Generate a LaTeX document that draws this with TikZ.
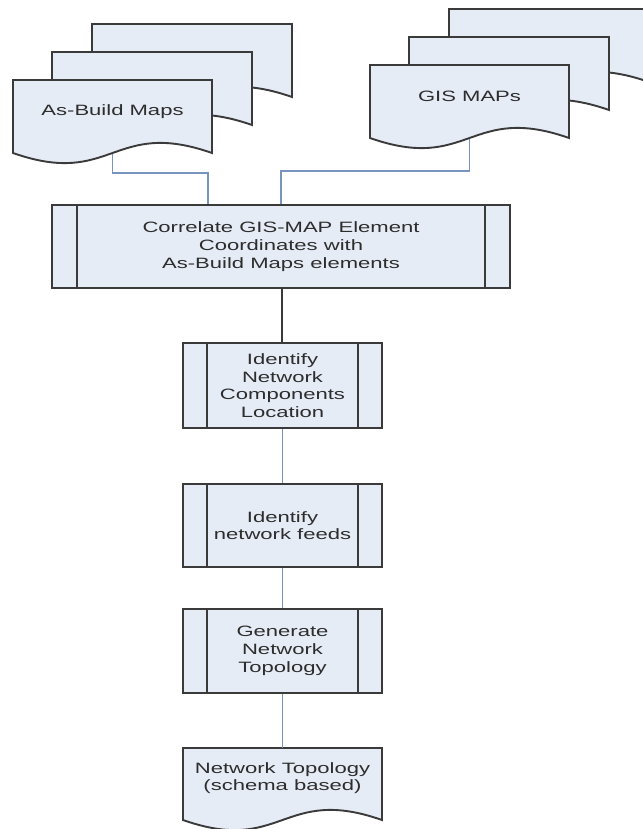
\documentclass[tikz,border=0pt]{standalone}
\usepackage{fontspec}
\setmainfont{Liberation Sans}[FakeStretch=1.47]
\usetikzlibrary{calc}
\pgfdeclarelayer{background}
\pgfsetlayers{background,main}
\definecolor{boxfill}{RGB}{230,236,246}
\definecolor{boxline}{RGB}{58,58,58}
\definecolor{linkblue}{RGB}{118,148,190}
\definecolor{txt}{RGB}{45,45,45}
\newcommand\docpath[4]{(#1,#2) -- (#1+#3,#2) -- (#1+#3,#2+#4) .. controls (#1+0.5*#3,#2+#4-35) and (#1+0.5*#3,#2+#4+35) .. (#1,#2+#4) -- cycle}
\begin{document}
\begin{tikzpicture}[x=1pt,y=-1pt,
  shapeline/.style={draw=boxline,line width=1.9pt,fill=boxfill,line join=miter},
  txtstyle/.style={text=txt,font=\fontsize{15}{17.7}\selectfont,align=center,inner sep=0pt},
  doctext/.style={txtstyle,minimum width=199pt,minimum height=63pt},
  proc/.style={txtstyle,shapeline,minimum width=199pt},
  bluelink/.style={draw=linkblue,line width=1.8pt},
  darklink/.style={draw=boxline,line width=1.8pt}]
\useasboundingbox (0,0) rectangle (642,829);
% stacked documents, back to front
\draw[shapeline] \docpath{92}{24}{200}{73};
\draw[shapeline] \docpath{52}{52}{200}{73};
\draw[shapeline] \docpath{13}{80}{199}{73};
\draw[shapeline] \docpath{449}{9}{200}{73};
\draw[shapeline] \docpath{409}{37}{200}{73};
\draw[shapeline] \docpath{370}{65}{199}{73};
\draw[shapeline] \docpath{183}{748}{199}{72};
% text of documents
\node[doctext] (asb) at (112.5,111.5) {As-Build Maps};
\node[doctext] (gis) at (469.5,96.5) {GIS MAPs};
\node[doctext,minimum height=60pt] (topo) at (282.5,778) {Network Topology\\(schema based)};
% process boxes
\node[proc,minimum width=458pt,minimum height=83pt] (cor) at (281,246.5) {Correlate GIS-MAP Element\\Coordinates with\\As-Build Maps elements};
\node[proc,minimum height=85pt] (comp) at (282.5,385.5) {Identify\\Network\\Components\\Location};
\node[proc,minimum height=83pt] (feed) at (282.5,525.5) {Identify\\network feeds};
\node[proc,minimum height=84pt] (gen) at (282.5,651) {Generate\\Network\\Topology};
\foreach \n/\d in {cor/26,comp/25,feed/25,gen/25}{
  \draw[draw=boxline,line width=1.9pt] ([xshift=\d pt]\n.north west) -- ([xshift=\d pt]\n.south west);
  \draw[draw=boxline,line width=1.9pt] ([xshift=-\d pt]\n.north east) -- ([xshift=-\d pt]\n.south east);
}
% connectors
\coordinate (j1) at (208,173);
\coordinate (j2) at (281,171);
\begin{pgfonlayer}{background}
\fill[white] (0,0) rectangle (642,829);
\draw[bluelink] (asb.south) |- (j1) -- (j1 |- cor.north);
\draw[bluelink] (gis.south) |- (j2) -- (j2 |- cor.north);
\end{pgfonlayer}
\draw[darklink] (comp.north -| 282,0) -- (cor.south -| 282,0);
\draw[bluelink] (comp.south) -- (feed.north);
\draw[bluelink] (feed.south) -- (gen.north);
\draw[bluelink] (gen.south) -- (topo.north);
\end{tikzpicture}
\end{document}
